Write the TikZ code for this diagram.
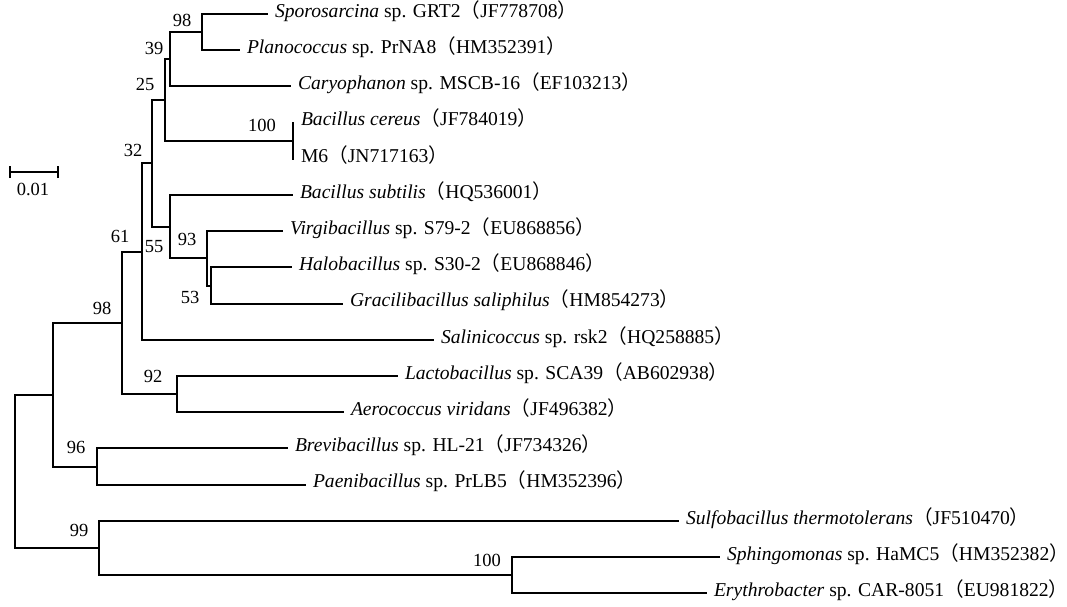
\documentclass[tikz,border=0pt]{standalone}
\usepackage{fontspec}
\setmainfont{Liberation Serif}
\newfontfamily\cjk{Noto Sans CJK SC}
\newcommand\LPar{{\cjk （}}
\newcommand\RPar{{\cjk ）}}
\begin{document}
\begin{tikzpicture}[x=1pt,y=-1pt,
  br/.style={line width=2pt, line cap=rect},
  leaf/.style={anchor=west, inner sep=0pt, outer xsep=8pt, outer ysep=0pt,
    font=\fontsize{19.6}{21}\selectfont, text height=0.66em, text depth=0pt},
  boot/.style={inner sep=0pt, font=\fontsize{18.5}{20}\selectfont, text height=0.66em, text depth=0pt}]
\useasboundingbox (0,0) rectangle (1067,607);
% leaves
\node[leaf] (l1) at (267,14) {\textit{Sporosarcina} sp. GRT2\LPar JF778708\RPar};
\node[leaf] (l2) at (239,50.2) {\textit{Planococcus} sp. PrNA8\LPar HM352391\RPar};
\node[leaf] (l3) at (290,86.4) {\textit{Caryophanon} sp. MSCB-16\LPar EF103213\RPar};
\node[leaf] (l4) at (293,122.6) {\textit{Bacillus cereus}\LPar JF784019\RPar};
\node[leaf] (l5) at (293,158.8) {M6\LPar JN717163\RPar};
\node[leaf] (l6) at (292,195) {\textit{Bacillus subtilis}\LPar HQ536001\RPar};
\node[leaf] (l7) at (282,231.2) {\textit{Virgibacillus} sp. S79-2\LPar EU868856\RPar};
\node[leaf] (l8) at (291,267.4) {\textit{Halobacillus} sp. S30-2\LPar EU868846\RPar};
\node[leaf] (l9) at (342,303.6) {\textit{Gracilibacillus saliphilus}\LPar HM854273\RPar};
\node[leaf] (l10) at (433,339.8) {\textit{Salinicoccus} sp. rsk2\LPar HQ258885\RPar};
\node[leaf] (l11) at (397,376) {\textit{Lactobacillus} sp. SCA39\LPar AB602938\RPar};
\node[leaf] (l12) at (343,412.2) {\textit{Aerococcus viridans}\LPar JF496382\RPar};
\node[leaf] (l13) at (287,448.4) {\textit{Brevibacillus} sp. HL-21\LPar JF734326\RPar};
\node[leaf] (l14) at (305,484.6) {\textit{Paenibacillus} sp. PrLB5\LPar HM352396\RPar};
\node[leaf] (l15) at (678,520.8) {\textit{Sulfobacillus thermotolerans}\LPar JF510470\RPar};
\node[leaf] (l16) at (719,557) {\textit{Sphingomonas} sp. HaMC5\LPar HM352382\RPar};
\node[leaf] (l17) at (706,593.2) {\textit{Erythrobacter} sp. CAR-8051\LPar EU981822\RPar};
% internal nodes
\coordinate (n98a) at (202,32.1);
\coordinate (n39) at (170,59.25);
\coordinate (n100a) at (293,140.7);
\coordinate (n25) at (165,100);
\coordinate (n53) at (211,285.5);
\coordinate (n93) at (207,258.35);
\coordinate (n55) at (170,226.7);
\coordinate (n32) at (152,163.3);
\coordinate (n61) at (142,251.6);
\coordinate (n92) at (177,394.1);
\coordinate (n98b) at (122,322.8);
\coordinate (n96) at (97,466.5);
\coordinate (nx) at (53,394.65);
\coordinate (n100b) at (512,575.1);
\coordinate (n99) at (99,547.95);
\coordinate (root) at (15,471.3);
% branches
\draw[br] (n98a) |- (l1.west);
\draw[br] (n98a) |- (l2.west);
\draw[br] (n39) |- (n98a);
\draw[br] (n39) |- (l3.west);
\draw[br] (n100a) |- (l4.west);
\draw[br] (n100a) |- (l5.west);
\draw[br] (n25) |- (n39);
\draw[br] (n25) |- (n100a);
\draw[br] (n53) |- (l8.west);
\draw[br] (n53) |- (l9.west);
\draw[br] (n93) |- (l7.west);
\draw[br] (n93) |- (n53);
\draw[br] (n55) |- (l6.west);
\draw[br] (n55) |- (n93);
\draw[br] (n32) |- (n25);
\draw[br] (n32) |- (n55);
\draw[br] (n61) |- (n32);
\draw[br] (n61) |- (l10.west);
\draw[br] (n92) |- (l11.west);
\draw[br] (n92) |- (l12.west);
\draw[br] (n98b) |- (n61);
\draw[br] (n98b) |- (n92);
\draw[br] (n96) |- (l13.west);
\draw[br] (n96) |- (l14.west);
\draw[br] (nx) |- (n98b);
\draw[br] (nx) |- (n96);
\draw[br] (n100b) |- (l16.west);
\draw[br] (n100b) |- (l17.west);
\draw[br] (n99) |- (l15.west);
\draw[br] (n99) |- (n100b);
\draw[br] (root) |- (nx);
\draw[br] (root) |- (n99);
% bootstrap values
\node[boot] (b1) at (182,23) {98};
\node[boot] (b2) at (154,51) {39};
\node[boot] (b3) at (145,87) {25};
\node[boot] (b4) at (133,153) {32};
\node[boot] (b5) at (262,128) {100};
\node[boot] (b6) at (120,239) {61};
\node[boot] (b7) at (154,249) {55};
\node[boot] (b8) at (187,242) {93};
\node[boot] (b9) at (190,300) {53};
\node[boot] (b10) at (102,311) {98};
\node[boot] (b11) at (153,379) {92};
\node[boot] (b12) at (76,450) {96};
\node[boot] (b13) at (79,533) {99};
\node[boot] (b14) at (487,563) {100};
% scale bar
\coordinate (sa) at (10,172);
\coordinate (sb) at (58,172);
\draw[br, line cap=butt] (sa) -- (sb);
\draw[line width=1.6pt] ([yshift=-6pt]sa) -- ([yshift=6pt]sa);
\draw[line width=1.6pt] ([yshift=-6pt]sb) -- ([yshift=6pt]sb);
\node[boot] (sl) at (33,192) {0.01};
\end{tikzpicture}
\end{document}
